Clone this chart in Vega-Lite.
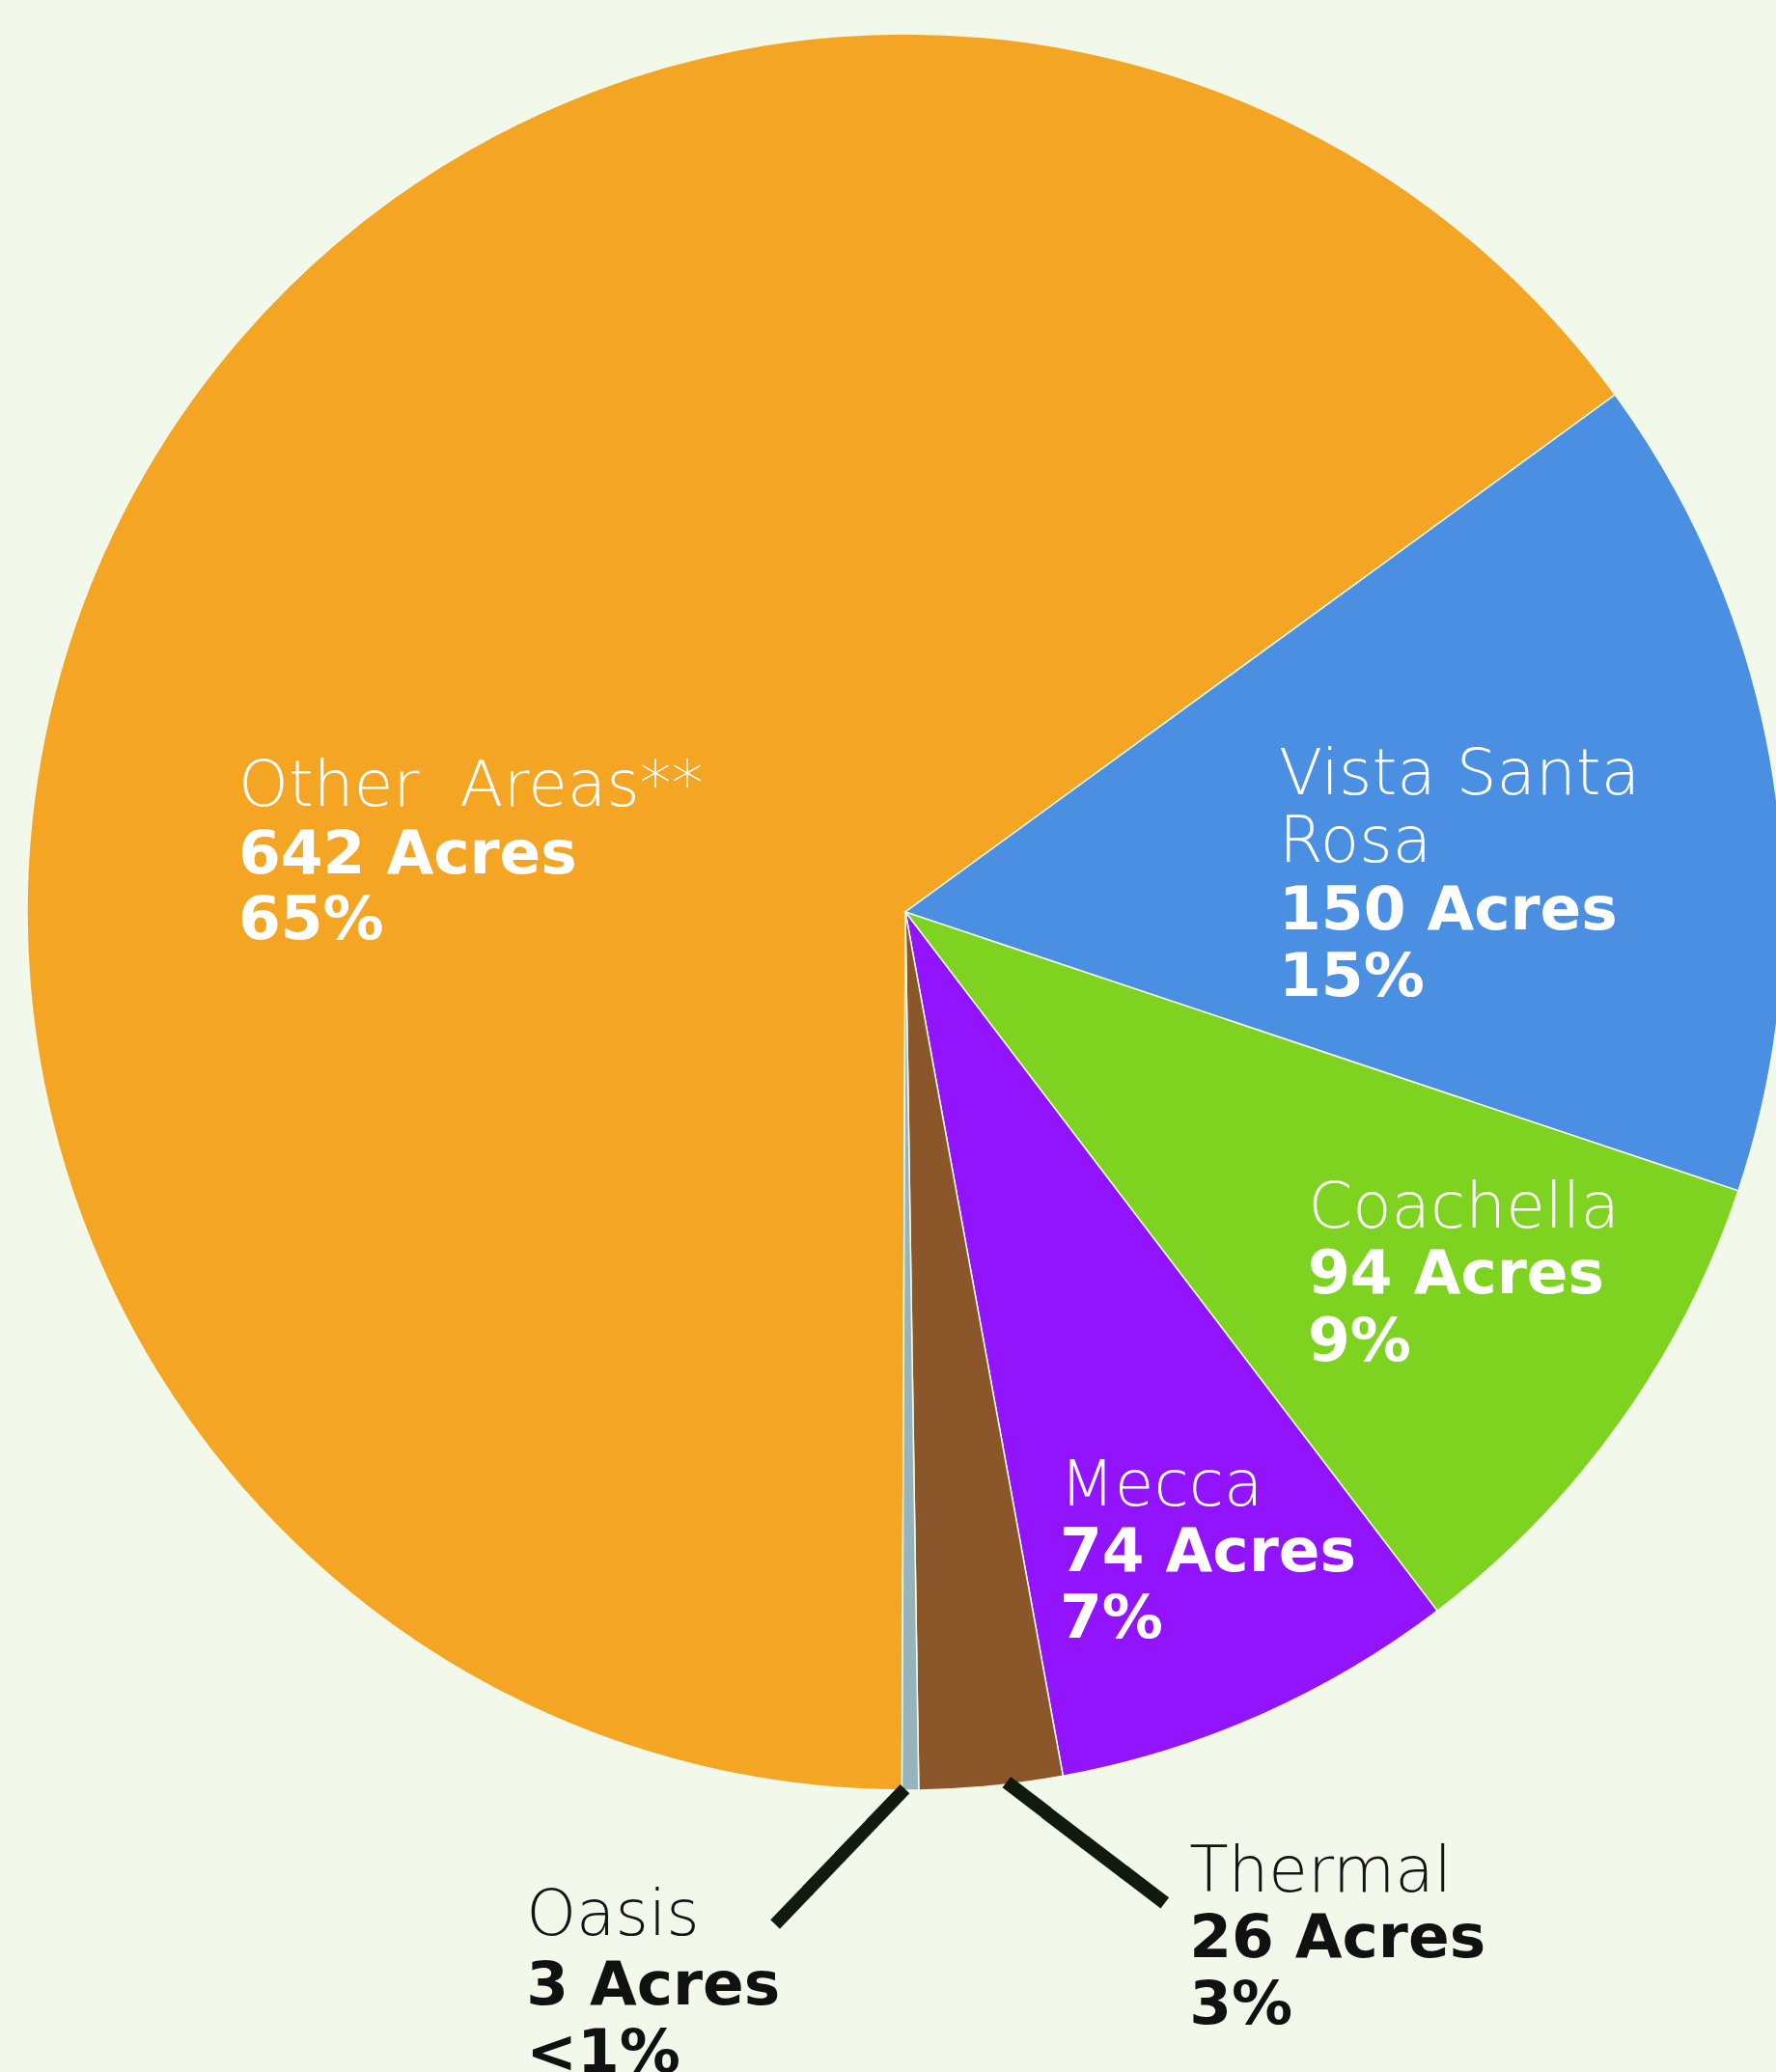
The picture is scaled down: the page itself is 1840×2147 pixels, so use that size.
{
  "$schema": "https://vega.github.io/schema/vega-lite/v6.json",
  "width": 1804,
  "height": 1890,
  "autosize": "none",
  "padding": {"left": 36, "top": 0, "right": 0, "bottom": 257},
  "background": "#f2f9eb",
  "config": {"view": {"stroke": null}},
  "data": {
    "values": [
      {"area": "Other Areas", "acres": 642, "name": "Other\u00a0\u00a0Areas**", "figures": "642 Acres\n65%"},
      {"area": "Vista Santa Rosa", "acres": 150, "name": "Vista Santa\nRosa", "figures": "150 Acres\n15%"},
      {"area": "Coachella", "acres": 94, "name": "Coachella", "figures": "94 Acres\n9%"},
      {"area": "Mecca", "acres": 74, "name": "Mecca", "figures": "74 Acres\n7%"},
      {"area": "Thermal", "acres": 26, "name": "Thermal", "figures": "26 Acres\n3%"},
      {"area": "Oasis", "acres": 3, "name": "Oasis", "figures": "3 Acres\n<1%"}
    ]
  },
  "encoding": {
    "theta": {"field": "acres", "type": "quantitative", "stack": true, "scale": {"range": [3.1454, 9.4286]}},
    "order": {"field": "acres", "type": "quantitative", "sort": "descending"},
    "detail": {"field": "area", "type": "nominal"}
  },
  "layer": [
    {
      "mark": {"type": "arc", "radius": 910, "stroke": "#f2f9eb", "strokeWidth": 1.5},
      "encoding": {
        "color": {
          "field": "area", "type": "nominal", "legend": null,
          "scale": {
            "domain": ["Other Areas", "Vista Santa Rosa", "Coachella", "Mecca", "Thermal", "Oasis"],
            "range": ["#F4A524", "#4A8FE1", "#7ED321", "#9114FD", "#8B572A", "#95B4BC"]
          }
        }
      }
    },
    {
      "mark": {"type": "text", "radius": 699.7, "thetaOffset": -0.3146, "align": "left", "baseline": "alphabetic", "font": "DejaVu Sans", "fontWeight": 200, "fontSize": 66, "color": "#ffffff", "lineBreak": "\n", "lineHeight": 70},
      "encoding": {"text": {"condition": {"test": "datum.area === 'Other Areas'", "field": "name", "type": "nominal"}, "value": ""}}
    },
    {
      "mark": {"type": "text", "radius": 692.2, "thetaOffset": -0.4146, "align": "left", "baseline": "alphabetic", "font": "DejaVu Sans", "fontWeight": "bold", "fontSize": 63, "color": "#ffffff", "lineBreak": "\n", "lineHeight": 68},
      "encoding": {"text": {"condition": {"test": "datum.area === 'Other Areas'", "field": "figures", "type": "nominal"}, "value": ""}}
    },
    {
      "mark": {"type": "text", "radius": 405.8, "thetaOffset": -0.1524, "align": "left", "baseline": "alphabetic", "font": "DejaVu Sans", "fontWeight": 200, "fontSize": 66, "color": "#ffffff", "lineBreak": "\n", "lineHeight": 70},
      "encoding": {"text": {"condition": {"test": "datum.area === 'Vista Santa Rosa'", "field": "name", "type": "nominal"}, "value": ""}}
    },
    {
      "mark": {"type": "text", "radius": 387.4, "thetaOffset": 0.1999, "align": "left", "baseline": "alphabetic", "font": "DejaVu Sans", "fontWeight": "bold", "fontSize": 63, "color": "#ffffff", "lineBreak": "\n", "lineHeight": 69},
      "encoding": {"text": {"condition": {"test": "datum.area === 'Vista Santa Rosa'", "field": "figures", "type": "nominal"}, "value": ""}}
    },
    {
      "mark": {"type": "text", "radius": 529.9, "thetaOffset": 0.0429, "align": "left", "baseline": "alphabetic", "font": "DejaVu Sans", "fontWeight": 200, "fontSize": 66, "color": "#ffffff", "lineBreak": "\n", "lineHeight": 70},
      "encoding": {"text": {"condition": {"test": "datum.area === 'Coachella'", "field": "name", "type": "nominal"}, "value": ""}}
    },
    {
      "mark": {"type": "text", "radius": 574.4, "thetaOffset": 0.1366, "align": "left", "baseline": "alphabetic", "font": "DejaVu Sans", "fontWeight": "bold", "fontSize": 63, "color": "#ffffff", "lineBreak": "\n", "lineHeight": 70},
      "encoding": {"text": {"condition": {"test": "datum.area === 'Coachella'", "field": "figures", "type": "nominal"}, "value": ""}}
    },
    {
      "mark": {"type": "text", "radius": 635.5, "thetaOffset": 0.1611, "align": "left", "baseline": "alphabetic", "font": "DejaVu Sans", "fontWeight": 200, "fontSize": 66, "color": "#ffffff", "lineBreak": "\n", "lineHeight": 70},
      "encoding": {"text": {"condition": {"test": "datum.area === 'Mecca'", "field": "name", "type": "nominal"}, "value": ""}}
    },
    {
      "mark": {"type": "text", "radius": 701.5, "thetaOffset": 0.1854, "align": "left", "baseline": "alphabetic", "font": "DejaVu Sans", "fontWeight": "bold", "fontSize": 63, "color": "#ffffff", "lineBreak": "\n", "lineHeight": 69},
      "encoding": {"text": {"condition": {"test": "datum.area === 'Mecca'", "field": "figures", "type": "nominal"}, "value": ""}}
    },
    {
      "mark": {"type": "text", "radius": 1056.7, "thetaOffset": -0.1843, "align": "left", "baseline": "alphabetic", "font": "DejaVu Sans", "fontWeight": 200, "fontSize": 66, "color": "#141414", "lineBreak": "\n", "lineHeight": 70},
      "encoding": {"text": {"condition": {"test": "datum.area === 'Thermal'", "field": "name", "type": "nominal"}, "value": ""}}
    },
    {
      "mark": {"type": "text", "radius": 1122.2, "thetaOffset": -0.1674, "align": "left", "baseline": "alphabetic", "font": "DejaVu Sans", "fontWeight": "bold", "fontSize": 63, "color": "#111111", "lineBreak": "\n", "lineHeight": 69},
      "encoding": {"text": {"condition": {"test": "datum.area === 'Thermal'", "field": "figures", "type": "nominal"}, "value": ""}}
    },
    {
      "mark": {"type": "text", "radius": 1130.5, "thetaOffset": 0.3606, "align": "left", "baseline": "alphabetic", "font": "DejaVu Sans", "fontWeight": 200, "fontSize": 66, "color": "#141414", "lineBreak": "\n", "lineHeight": 70},
      "encoding": {"text": {"condition": {"test": "datum.area === 'Oasis'", "field": "name", "type": "nominal"}, "value": ""}}
    },
    {
      "mark": {"type": "text", "radius": 1198.3, "thetaOffset": 0.3397, "align": "left", "baseline": "alphabetic", "font": "DejaVu Sans", "fontWeight": "bold", "fontSize": 63, "color": "#111111", "lineBreak": "\n", "lineHeight": 70},
      "encoding": {"text": {"condition": {"test": "datum.area === 'Oasis'", "field": "figures", "type": "nominal"}, "value": ""}}
    },
    {
      "mark": {"type": "text", "radius": 983.4, "thetaOffset": 0.0719, "align": "center", "baseline": "middle", "angle": 313.8, "font": "DejaVu Sans", "fontSize": 80, "color": "#111a0f"},
      "encoding": {"text": {"condition": {"test": "datum.area === 'Oasis'", "value": "━━━━"}, "value": ""}}
    },
    {
      "mark": {"type": "text", "radius": 984.3, "thetaOffset": -0.0910, "align": "center", "baseline": "middle", "angle": 37.4, "font": "DejaVu Sans", "fontSize": 85, "color": "#111a0f"},
      "encoding": {"text": {"condition": {"test": "datum.area === 'Thermal'", "value": "━━━━"}, "value": ""}}
    }
  ]
}
